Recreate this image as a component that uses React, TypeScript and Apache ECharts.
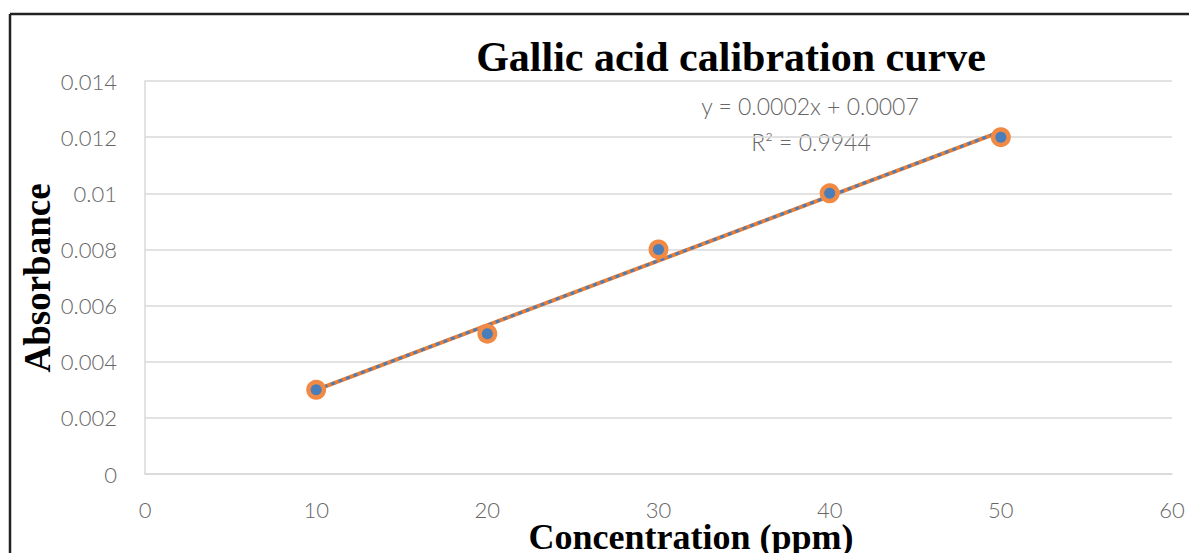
import React, { useEffect, useRef } from "react";
import * as echarts from "echarts";

const concentrations = [10, 20, 30, 40, 50];
const absorbances = [0.003, 0.005, 0.008, 0.01, 0.012];
const xTicks = [0, 10, 20, 30, 40, 50, 60];
const yTickLabels = ["0", "0.002", "0.004", "0.006", "0.008", "0.01", "0.012", "0.014"];
const titleText = "Gallic acid calibration curve";
const xName = "Concentration (ppm)";
const yName = "Absorbance";
const equationText = "y = 0.0002x + 0.0007";
const r2Text = "R² = 0.9944";

function fitLine(xs: number[], ys: number[]) {
  const n = xs.length;
  const mx = xs.reduce((a, b) => a + b, 0) / n;
  const my = ys.reduce((a, b) => a + b, 0) / n;
  let sxy = 0;
  let sxx = 0;
  for (let i = 0; i < n; i++) {
    sxy += (xs[i] - mx) * (ys[i] - my);
    sxx += (xs[i] - mx) * (xs[i] - mx);
  }
  const slope = sxy / sxx;
  const intercept = my - slope * mx;
  return { slope, intercept };
}

export default function App() {
  const ref = useRef<HTMLDivElement>(null);
  useEffect(() => {
    if (!ref.current) return;
    const chart = echarts.init(ref.current, null, { renderer: "svg" });
    const { slope, intercept } = fitLine(concentrations, absorbances);
    const x0 = Math.min(...concentrations);
    const x1 = Math.max(...concentrations);
    const trend = [
      [x0, slope * x0 + intercept],
      [x1, slope * x1 + intercept],
    ];
    const points = concentrations.map((x, i) => [x, absorbances[i]]);
    const labelFont = {
      fontFamily: "Lato",
      fontSize: 22,
      fontWeight: 300,
      color: "#666666",
    };
    chart.setOption({
      animation: false,
      backgroundColor: "#ffffff",
      grid: { left: 145, right: 17, top: 81, bottom: 79, containLabel: false },
      xAxis: {
        type: "value",
        min: xTicks[0],
        max: xTicks[xTicks.length - 1],
        interval: 10,
        axisLine: { show: true, lineStyle: { color: "#d9d9d9", width: 1.5 } },
        axisTick: { show: false },
        splitLine: { show: false },
        axisLabel: { ...labelFont, margin: 24 },
      },
      yAxis: {
        type: "value",
        min: 0,
        max: 0.014,
        interval: 0.002,
        axisLine: { show: true, lineStyle: { color: "#d9d9d9", width: 1.5 } },
        axisTick: { show: false },
        splitLine: { show: true, lineStyle: { color: "#d9d9d9", width: 1.5 } },
        axisLabel: {
          ...labelFont,
          margin: 28,
          formatter: (v: number) => yTickLabels[Math.round(v / 0.002)] ?? String(v),
        },
      },
      series: [
        {
          type: "line",
          data: trend,
          symbol: "none",
          lineStyle: { color: "#ED7D31", width: 4 },
          z: 1,
        },
        {
          type: "line",
          data: trend,
          symbol: "none",
          lineStyle: { color: "#4A7EBB", width: 3, type: [4, 4] },
          z: 2,
        },
        {
          type: "scatter",
          data: points,
          symbol: "circle",
          symbolSize: 20,
          itemStyle: { color: "#F08A45", opacity: 1 },
          z: 3,
        },
        {
          type: "scatter",
          data: points,
          symbol: "circle",
          symbolSize: 11,
          itemStyle: { color: "#4A7EBB", opacity: 1 },
          z: 4,
        },
      ],
      graphic: [
        {
          type: "line",
          shape: { x1: 10, y1: 14, x2: 1189, y2: 14 },
          style: { stroke: "#222222", lineWidth: 2.5 },
        },
        {
          type: "line",
          shape: { x1: 10, y1: 14, x2: 10, y2: 553 },
          style: { stroke: "#222222", lineWidth: 2.5 },
        },
        {
          type: "text",
          x: 731,
          y: 57,
          style: {
            text: titleText,
            fontFamily: "Liberation Serif",
            fontWeight: "bold",
            fontSize: 42,
            fill: "#000000",
            textAlign: "center",
            textVerticalAlign: "middle",
          },
        },
        {
          type: "text",
          x: 37,
          y: 278,
          rotation: Math.PI / 2,
          style: {
            text: yName,
            fontFamily: "Liberation Serif",
            fontWeight: "bold",
            fontSize: 37,
            fill: "#000000",
            textAlign: "center",
            textVerticalAlign: "middle",
          },
        },
        {
          type: "text",
          x: 691,
          y: 537,
          style: {
            text: xName,
            fontFamily: "Liberation Serif",
            fontWeight: "bold",
            fontSize: 36,
            fill: "#000000",
            textAlign: "center",
            textVerticalAlign: "middle",
          },
        },
        {
          type: "text",
          x: 810,
          y: 106,
          style: {
            text: equationText,
            fontFamily: "Lato",
            fontSize: 23,
            fontWeight: 300,
            fill: "#666666",
            textAlign: "center",
            textVerticalAlign: "middle",
          },
        },
        {
          type: "text",
          x: 811,
          y: 142,
          style: {
            text: r2Text,
            fontFamily: "Lato",
            fontSize: 23,
            fontWeight: 300,
            fill: "#666666",
            textAlign: "center",
            textVerticalAlign: "middle",
          },
        },
      ],
    });
    return () => chart.dispose();
  }, []);
  return (
    <div
      ref={ref}
      style={{ position: "absolute", left: 0, top: 0, width: 1189, height: 553 }}
    />
  );
}
